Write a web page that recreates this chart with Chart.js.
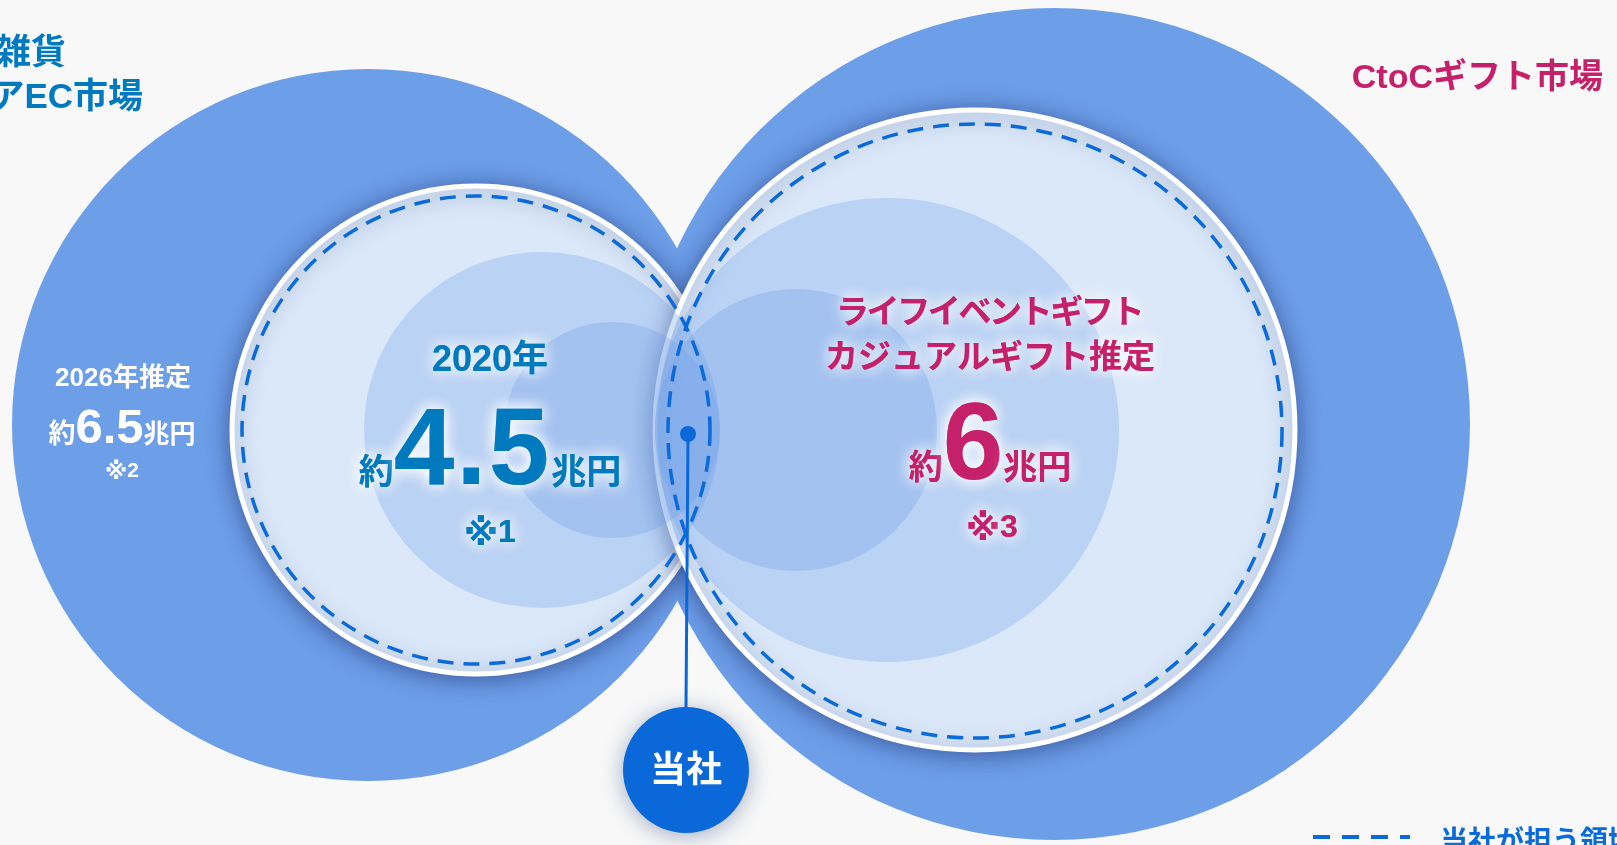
<!DOCTYPE html>
<html lang="ja">
<head>
<meta charset="utf-8">
<title>市場規模</title>
<script src="https://cdn.jsdelivr.net/npm/chart.js@4.4.1/dist/chart.umd.min.js"></script>
<style>
  html, body { margin: 0; padding: 0; background: #f8f8f8; overflow: hidden; }
  canvas { display: block; }
</style>
</head>
<body>
<canvas id="marketChart" width="1617" height="845"></canvas>
<script>
// 円の中心と半径（図の座標: 横 0〜1617, 縦 0〜845）
const bigX = [368, 1054];
const bigY = [425, 424];
const bigR = [356, 416];

const paleX = [476, 975];
const paleY = [430, 430];
const paleR = [244, 320];

const innerX = [542, 612, 887, 796];
const innerY = [430, 430, 430, 430];
const innerR = [178, 108, 232, 141];

const dashX = [476, 975];
const dashY = [430, 431];
const dashR = [234, 307];

const lineX = [688, 686];
const lineY = [434, 707];
const companyX = 686;
const companyY = 770;
const companyR = 63;

// テキスト
const leftMarket = ["家具・生活雑貨", "インテリアEC市場"];
const rightMarket = "CtoCギフト市場";
const leftYear = "2026年推定";
const leftValue = ["約", "6.5", "兆円"];
const leftNote = ["※", "2"];
const centerYear = "2020年";
const centerValue = ["約", "4.5", "兆円"];
const centerNote = ["※", "1"];
const giftTitle = ["ライフイベントギフト", "カジュアルギフト推定"];
const giftValue = ["約", "6", "兆円"];
const giftNote = ["※", "3"];
const companyLabel = "当社";
const legendLabel = "当社が担う領域";

const BLUE_TEXT = "#007abe";
const PINK = "#c5216b";
const DASH_BLUE = "#0a6ad9";

function font(size) {
  return `bold ${size}px "Liberation Sans", "Noto Sans CJK JP", sans-serif`;
}
function markFont(size) {
  return `bold ${size}px "DejaVu Sans", "Noto Sans CJK JP", sans-serif`;
}

function toPoints(xs, ys, rs) {
  return xs.map((x, i) => ({ x: x, y: ys[i], r: rs[i] }));
}

// parts: 文字列, fonts: フォント指定, spacing: 字間, shift: 縦のずれ
function drawParts(ctx, parts, fonts, cx, baseline, spacing, shift) {
  spacing = spacing || parts.map(() => "0px");
  shift = shift || parts.map(() => 0);
  let total = 0;
  const widths = parts.map((p, i) => {
    ctx.font = fonts[i];
    ctx.letterSpacing = spacing[i];
    const w = ctx.measureText(p).width;
    total += w;
    return w;
  });
  let x = cx - total / 2;
  ctx.textAlign = "left";
  parts.forEach((p, i) => {
    ctx.font = fonts[i];
    ctx.letterSpacing = spacing[i];
    ctx.fillText(p, x, baseline + shift[i]);
    x += widths[i];
  });
  ctx.letterSpacing = "0px";
}

function glow(ctx, fn) {
  ctx.save();
  ctx.shadowColor = "rgba(255,255,255,0.95)";
  ctx.shadowBlur = 16;
  fn();
  fn();
  ctx.restore();
}

const shadowPlugin = {
  id: "shadowPlugin",
  beforeDatasetDraw(chart, args) {
    const ds = chart.data.datasets[args.index];
    if (ds.shadow) {
      const ctx = chart.ctx;
      ctx.save();
      ctx.shadowColor = ds.shadow;
      ctx.shadowBlur = 22;
      ctx.shadowOffsetY = 3;
    }
  },
  afterDatasetDraw(chart, args) {
    const ds = chart.data.datasets[args.index];
    const ctx = chart.ctx;
    if (ds.shadow) ctx.restore();
    if (ds.label === "inner") {
      const xs = chart.scales.x;
      const ys = chart.scales.y;
      ctx.save();
      ctx.strokeStyle = DASH_BLUE;
      ctx.lineWidth = 3.5;
      ctx.setLineDash([16, 10]);
      dashX.forEach((cx, i) => {
        const px = xs.getPixelForValue(cx);
        const py = ys.getPixelForValue(dashY[i]);
        const pr = xs.getPixelForValue(cx + dashR[i]) - px;
        ctx.beginPath();
        ctx.arc(px, py, pr, 0, Math.PI * 2);
        ctx.stroke();
      });
      ctx.restore();
    }
  },
};

const textPlugin = {
  id: "textPlugin",
  afterDraw(chart) {
    const ctx = chart.ctx;
    const xs = chart.scales.x;
    const ys = chart.scales.y;
    const X = (v) => xs.getPixelForValue(v);
    const Y = (v) => ys.getPixelForValue(v);
    ctx.save();
    ctx.textBaseline = "alphabetic";

    // 左上の市場名
    ctx.fillStyle = BLUE_TEXT;
    ctx.font = font(35);
    ctx.textAlign = "right";
    ctx.fillText(leftMarket[0], X(66), Y(64));
    ctx.fillText(leftMarket[1], X(143), Y(108));

    // 右上の市場名
    ctx.fillStyle = PINK;
    ctx.font = font(34);
    ctx.textAlign = "right";
    ctx.fillText(rightMarket, X(1603), Y(88));

    // 左の大きな円
    ctx.fillStyle = "#ffffff";
    ctx.font = font(26);
    ctx.textAlign = "center";
    ctx.fillText(leftYear, X(123), Y(386));
    drawParts(ctx, leftValue, [font(27), font(49), font(26)], X(122), Y(443));
    drawParts(ctx, leftNote, [markFont(23), font(21)], X(122), Y(477), null, [2, 0]);

    // 2020年
    ctx.fillStyle = BLUE_TEXT;
    glow(ctx, () => {
      ctx.font = font(36);
      ctx.textAlign = "center";
      ctx.fillText(centerYear, X(490), Y(371));
      drawParts(ctx, centerValue, [font(35), font(109), font(35)], X(490), Y(484),
        ["0px", "2px", "0px"]);
      drawParts(ctx, centerNote, [markFont(35), font(32)], X(490), Y(542), null, [3, 0]);
    });

    // ギフト市場
    ctx.fillStyle = PINK;
    glow(ctx, () => {
      ctx.textAlign = "center";
      ctx.font = font(33);
      ctx.letterSpacing = "-2.4px";
      ctx.fillText(giftTitle[0], X(989), Y(323));
      ctx.letterSpacing = "0px";
      ctx.fillText(giftTitle[1], X(990), Y(368));
      drawParts(ctx, giftValue, [font(34), font(109), font(34)], X(990), Y(479));
      drawParts(ctx, giftNote, [markFont(35), font(32)], X(992), Y(537), null, [3, 0]);
    });

    // 当社
    ctx.fillStyle = "#ffffff";
    ctx.font = font(36);
    ctx.textAlign = "center";
    ctx.textBaseline = "middle";
    ctx.fillText(companyLabel, X(companyX), Y(companyY + 2));

    // 凡例
    ctx.textBaseline = "alphabetic";
    ctx.strokeStyle = DASH_BLUE;
    ctx.lineWidth = 4;
    ctx.setLineDash([17, 12]);
    ctx.beginPath();
    ctx.moveTo(X(1313), Y(837));
    ctx.lineTo(X(1410), Y(837));
    ctx.stroke();
    ctx.setLineDash([]);
    ctx.fillStyle = DASH_BLUE;
    ctx.font = font(28);
    ctx.textAlign = "left";
    ctx.fillText(legendLabel, X(1440), Y(851));

    ctx.restore();
  },
};

new Chart(document.getElementById("marketChart"), {
  type: "bubble",
  data: {
    datasets: [
      {
        label: "company",
        data: [{ x: companyX, y: companyY, r: companyR }],
        backgroundColor: "#0b68d8",
        borderWidth: 0,
        shadow: "rgba(30,60,120,0.4)",
        clip: false,
        order: 1,
      },
      {
        type: "line",
        label: "link",
        data: lineX.map((x, i) => ({ x: x, y: lineY[i] })),
        borderColor: "#0b68d8",
        borderWidth: 3,
        pointRadius: [8, 0],
        pointBackgroundColor: "#0b68d8",
        pointBorderWidth: 0,
        clip: false,
        order: 2,
      },
      {
        label: "inner",
        data: toPoints(innerX, innerY, innerR),
        backgroundColor: "rgba(108,158,232,0.3)",
        borderWidth: 0,
        clip: false,
        order: 3,
      },
      {
        label: "pale",
        data: toPoints(paleX, paleY, paleR),
        backgroundColor: "#dbe8f9",
        borderColor: "#ffffff",
        borderWidth: 5,
        shadow: "rgba(25,45,110,0.55)",
        clip: false,
        order: 4,
      },
      {
        label: "big",
        data: toPoints(bigX, bigY, bigR),
        backgroundColor: "#6d9ee8",
        borderWidth: 0,
        clip: false,
        order: 5,
      },
    ],
  },
  options: {
    responsive: false,
    animation: false,
    events: [],
    layout: { padding: 0, autoPadding: false },
    plugins: {
      legend: { display: false },
      tooltip: { enabled: false },
    },
    scales: {
      x: { type: "linear", min: 0, max: 1617, display: false },
      y: { type: "linear", min: 0, max: 845, reverse: true, display: false },
    },
  },
  plugins: [shadowPlugin, textPlugin],
});
</script>
</body>
</html>
